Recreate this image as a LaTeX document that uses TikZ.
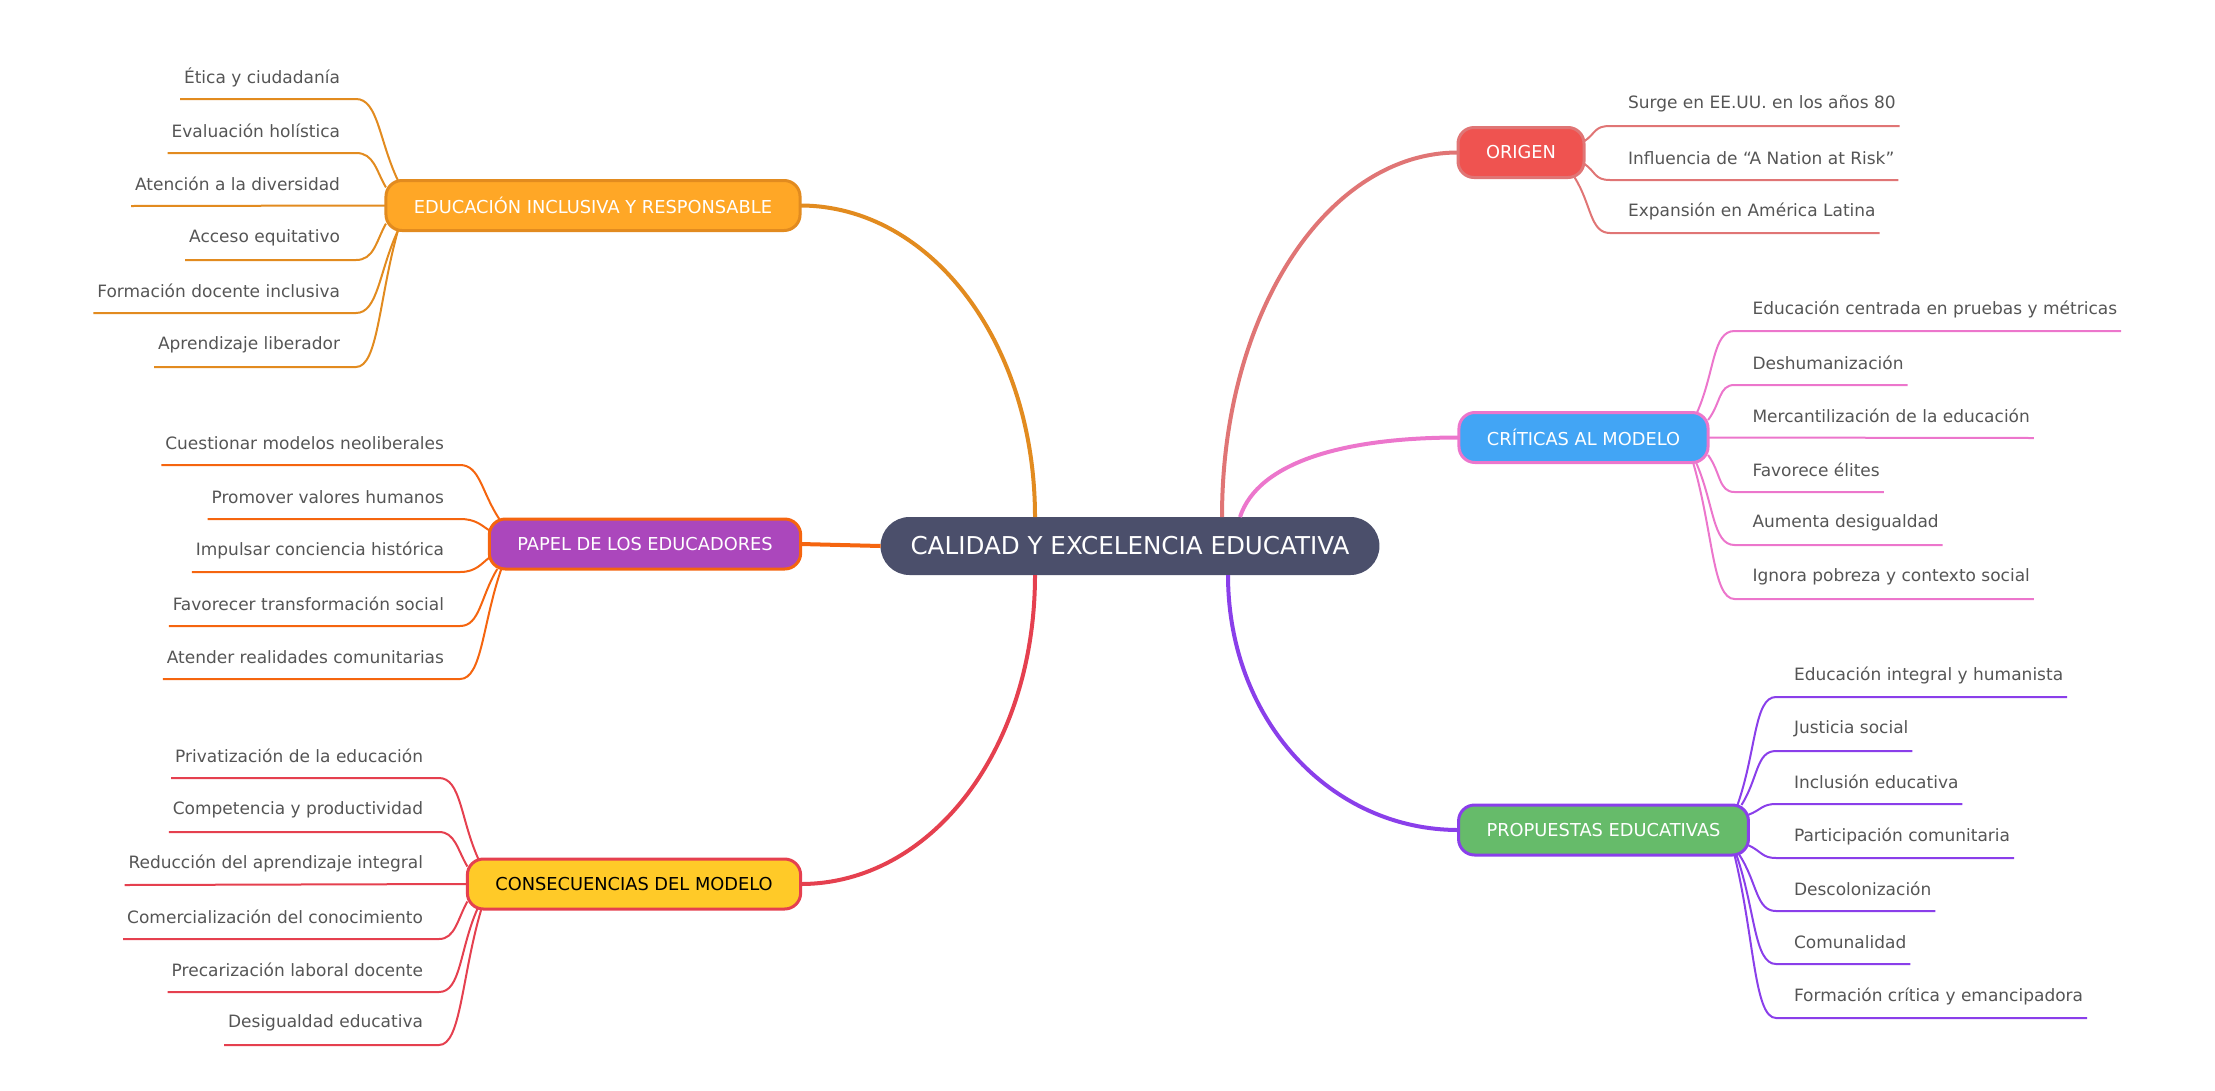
\documentclass[tikz,border=0pt]{standalone}
\usepackage{fontspec}
\setmainfont{DejaVu Sans}
\usepackage{tikz}

\definecolor{rootfill}{HTML}{4B4F6B}
\definecolor{leaftext}{HTML}{555555}
\definecolor{educol}{HTML}{E28B1F}
\definecolor{edufill}{HTML}{FFA726}
\definecolor{papcol}{HTML}{F5650F}
\definecolor{papfill}{HTML}{AB47BC}
\definecolor{concol}{HTML}{E5404F}
\definecolor{confill}{HTML}{FFCA28}
\definecolor{oricol}{HTML}{E07575}
\definecolor{orifill}{HTML}{EF5350}
\definecolor{cricol}{HTML}{EC76CC}
\definecolor{crifill}{HTML}{42A5F5}
\definecolor{procol}{HTML}{8A3FEA}
\definecolor{profill}{HTML}{66BB6A}

\begin{document}
\begin{tikzpicture}[
    x=1pt, y=-1pt,
    root/.style={
        rectangle, rounded corners=29pt, fill=rootfill, text=white,
        minimum height=58pt, inner xsep=30pt, outer sep=0pt,
        font=\fontsize{24.6}{28}\selectfont
    },
    topic/.style={
        rectangle, rounded corners=16pt, line width=3pt, text=white,
        minimum height=50pt, inner xsep=28pt, outer sep=0pt,
        font=\fontsize{17.8}{21}\selectfont
    },
    leafl/.style={
        anchor=south east, minimum height=44pt, inner ysep=0pt,
        inner xsep=4pt, outer sep=0pt, text=leaftext,
        font=\fontsize{17}{20}\selectfont
    },
    leafr/.style={leafl, anchor=south west},
    main/.style={line width=4pt},
    twig/.style={line width=2pt}
]
\useasboundingbox (0,0) rectangle (2215,1090);

\node[root] (root) at (1130,546) {CALIDAD Y EXCELENCIA EDUCATIVA};

\node[topic, fill=edufill, draw=educol] (edu) at (593,205.5) {EDUCACIÓN INCLUSIVA Y RESPONSABLE};
\node[topic, fill=papfill, draw=papcol] (pap) at (645,544) {PAPEL DE LOS EDUCADORES};
\node[topic, fill=confill, draw=concol, text=black] (con) at (634,884) {CONSECUENCIAS DEL MODELO};
\node[topic, fill=orifill, draw=oricol] (ori) at (1521,152.5) {ORIGEN};
\node[topic, fill=crifill, draw=cricol] (cri) at (1583.5,437.5) {CRÍTICAS AL MODELO};
\node[topic, fill=profill, draw=procol] (pro) at (1603.5,830) {PROPUESTAS EDUCATIVAS};

\draw[main, educol] (edu.east) .. controls +(130,0) and +(0,-175) .. ([xshift=-95]root.north);
\draw[main, papcol] (pap.east) -- (root.west);
\draw[main, concol] (con.east) .. controls +(130,0) and +(0,175) .. ([xshift=-95]root.south);
\draw[main, oricol] ([xshift=92]root.north) .. controls +(0,-205) and +(-130,0) .. (ori.west);
\draw[main, cricol] ([xshift=110]root.north) .. controls +(18,-55) and +(-115,0) .. (cri.west);
\draw[main, procol] ([xshift=98]root.south) .. controls +(0,145) and +(-128,0) .. (pro.west);

\node[leafl] (ed1) at (344,99) {Ética y ciudadanía};
\node[leafl] (ed2) at (344,153) {Evaluación holística};
\node[leafl] (ed3) at (344,206) {Atención a la diversidad};
\node[leafl] (ed4) at (344,260) {Acceso equitativo};
\node[leafl] (ed5) at (344,313) {Formación docente inclusiva};
\node[leafl] (ed6) at (344,367) {Aprendizaje liberador};
\draw[twig, educol] (ed1.south west) -- ([xshift=12]ed1.south east) .. controls +(22,0) and +(-19,-40) .. ([xshift=12]edu.north west);
\draw[twig, educol] (ed2.south west) -- ([xshift=12]ed2.south east) .. controls +(18,0) and +(-10,-17) .. (edu.175);
\draw[twig, educol] (ed3.south west) -- (edu.west);
\draw[twig, educol] (ed4.south west) -- ([xshift=12]ed4.south east) .. controls +(18,0) and +(-10,18) .. (edu.185);
\draw[twig, educol] (ed5.south west) -- ([xshift=12]ed5.south east) .. controls +(22,0) and +(-19,41) .. ([xshift=12]edu.south west);
\draw[twig, educol] (ed6.south west) -- ([xshift=12]ed6.south east) .. controls +(22,0) and +(-19,68) .. ([xshift=12]edu.south west);

\node[leafl] (pa1) at (448,465) {Cuestionar modelos neoliberales};
\node[leafl] (pa2) at (448,519) {Promover valores humanos};
\node[leafl] (pa3) at (448,572) {Impulsar conciencia histórica};
\node[leafl] (pa4) at (448,626) {Favorecer transformación social};
\node[leafl] (pa5) at (448,679) {Atender realidades comunitarias};
\draw[twig, papcol] (pa1.south west) -- ([xshift=12]pa1.south east) .. controls +(20,0) and +(-18,-27) .. ([xshift=10]pap.north west);
\draw[twig, papcol] (pa2.south west) -- ([xshift=12]pa2.south east) .. controls +(16,0) and +(-8,-5) .. (pap.175);
\draw[twig, papcol] (pa3.south west) -- ([xshift=12]pa3.south east) .. controls +(16,0) and +(-8,6) .. (pap.185);
\draw[twig, papcol] (pa4.south west) -- ([xshift=12]pa4.south east) .. controls +(20,0) and +(-17,28) .. ([xshift=8]pap.south west);
\draw[twig, papcol] (pa5.south west) -- ([xshift=12]pa5.south east) .. controls +(22,0) and +(-19,55) .. ([xshift=12]pap.south west);

\node[leafl] (co1) at (427,778) {Privatización de la educación};
\node[leafl] (co2) at (427,832) {Competencia y productividad};
\node[leafl] (co3) at (427,885) {Reducción del aprendizaje integral};
\node[leafl] (co4) at (427,939) {Comercialización del conocimiento};
\node[leafl] (co5) at (427,992) {Precarización laboral docente};
\node[leafl] (co6) at (427,1045) {Desigualdad educativa};
\draw[twig, concol] (co1.south west) -- ([xshift=12]co1.south east) .. controls +(22,0) and +(-18,-40) .. ([xshift=11]con.north west);
\draw[twig, concol] (co2.south west) -- ([xshift=12]co2.south east) .. controls +(16,0) and +(-10,-17) .. (con.174);
\draw[twig, concol] (co3.south west) -- (con.west);
\draw[twig, concol] (co4.south west) -- ([xshift=12]co4.south east) .. controls +(16,0) and +(-10,18) .. (con.186);
\draw[twig, concol] (co5.south west) -- ([xshift=12]co5.south east) .. controls +(22,0) and +(-18,41) .. ([xshift=10]con.south west);
\draw[twig, concol] (co6.south west) -- ([xshift=12]co6.south east) .. controls +(22,0) and +(-20,68) .. ([xshift=14]con.south west);

\node[leafr] (or1) at (1624,126) {Surge en EE.UU. en los años 80};
\node[leafr] (or2) at (1624,180) {Influencia de “A Nation at Risk”};
\node[leafr] (or3) at (1624,233) {Expansión en América Latina};
\draw[twig, oricol] (ori.10) .. controls +(12,-8) and +(-16,0) .. ([xshift=-14]or1.south west) -- (or1.south east);
\draw[twig, oricol] (ori.-10) .. controls +(12,8) and +(-16,0) .. ([xshift=-14]or2.south west) -- (or2.south east);
\draw[twig, oricol] (ori.-25) .. controls +(17,27) and +(-20,0) .. ([xshift=-14]or3.south west) -- (or3.south east);

\node[leafr] (cr1) at (1748.5,331) {Educación centrada en pruebas y métricas};
\node[leafr] (cr2) at (1748.5,385) {Deshumanización};
\node[leafr] (cr3) at (1748.5,438) {Mercantilización de la educación};
\node[leafr] (cr4) at (1748.5,492) {Favorece élites};
\node[leafr] (cr5) at (1748.5,545) {Aumenta desigualdad};
\node[leafr] (cr6) at (1748.5,599) {Ignora pobreza y contexto social};
\draw[twig, cricol] ([xshift=-11]cri.north east) .. controls +(18,-41) and +(-22,0) .. ([xshift=-14]cr1.south west) -- (cr1.south east);
\draw[twig, cricol] (cri.8) .. controls +(13,-17) and +(-16,0) .. ([xshift=-14]cr2.south west) -- (cr2.south east);
\draw[twig, cricol] (cri.east) -- (cr3.south east);
\draw[twig, cricol] (cri.-8) .. controls +(13,18) and +(-16,0) .. ([xshift=-14]cr4.south west) -- (cr4.south east);
\draw[twig, cricol] ([xshift=-12]cri.south east) .. controls +(18,41) and +(-22,0) .. ([xshift=-14]cr5.south west) -- (cr5.south east);
\draw[twig, cricol] ([xshift=-15]cri.south east) .. controls +(20,68) and +(-22,0) .. ([xshift=-14]cr6.south west) -- (cr6.south east);

\node[leafr] (pr1) at (1790,697) {Educación integral y humanista};
\node[leafr] (pr2) at (1790,751) {Justicia social};
\node[leafr] (pr3) at (1790,804) {Inclusión educativa};
\node[leafr] (pr4) at (1790,858) {Participación comunitaria};
\node[leafr] (pr5) at (1790,911) {Descolonización};
\node[leafr] (pr6) at (1790,964) {Comunalidad};
\node[leafr] (pr7) at (1790,1018) {Formación crítica y emancipadora};
\draw[twig, procol] ([xshift=-11]pro.north east) .. controls +(19,-54) and +(-22,0) .. ([xshift=-14]pr1.south west) -- (pr1.south east);
\draw[twig, procol] ([xshift=-7]pro.north east) .. controls +(17,-27) and +(-20,0) .. ([xshift=-14]pr2.south west) -- (pr2.south east);
\draw[twig, procol] (pro.6) .. controls +(13,-5) and +(-14,0) .. ([xshift=-14]pr3.south west) -- (pr3.south east);
\draw[twig, procol] (pro.-6) .. controls +(13,6) and +(-14,0) .. ([xshift=-14]pr4.south west) -- (pr4.south east);
\draw[twig, procol] ([xshift=-9]pro.south east) .. controls +(18,28) and +(-20,0) .. ([xshift=-14]pr5.south west) -- (pr5.south east);
\draw[twig, procol] ([xshift=-12]pro.south east) .. controls +(19,55) and +(-22,0) .. ([xshift=-14]pr6.south west) -- (pr6.south east);
\draw[twig, procol] ([xshift=-14]pro.south east) .. controls +(20,82) and +(-22,0) .. ([xshift=-14]pr7.south west) -- (pr7.south east);
\end{tikzpicture}
\end{document}
